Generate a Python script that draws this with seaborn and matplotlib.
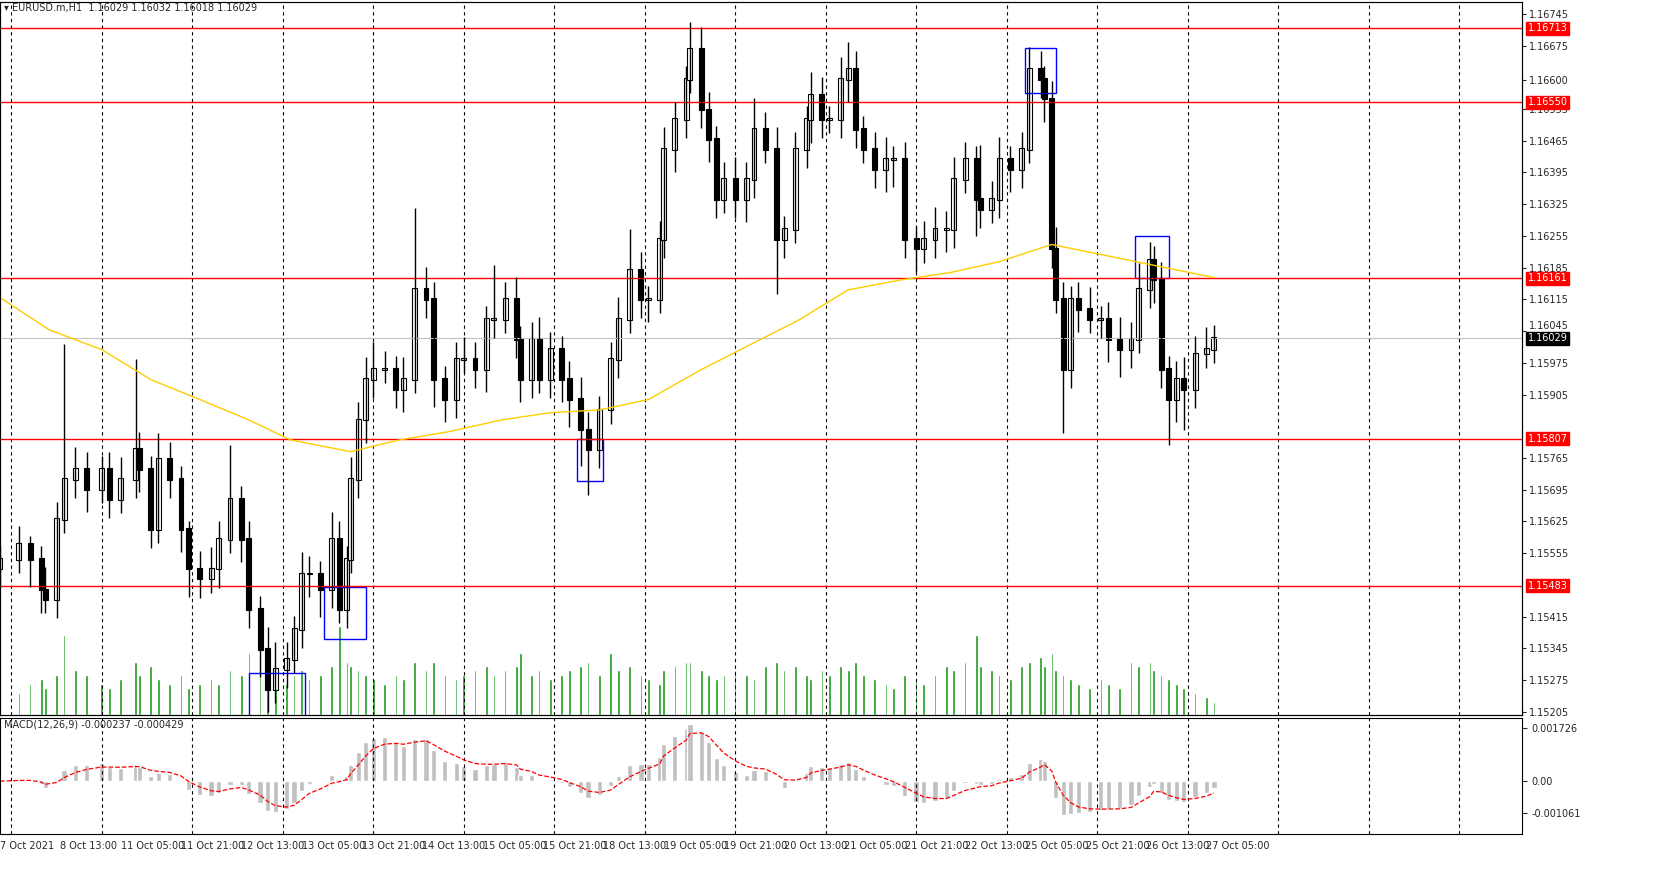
import numpy as np
import pandas as pd
import matplotlib
matplotlib.use("Agg")
import matplotlib.pyplot as plt
import seaborn as sns

sns.set_style("white")
plt.rcParams['font.family'] = ['DejaVu Sans']

# bar times (hours from 7 Oct 2021 start) and close prices
bar_hour = [0, 5, 8, 11, 12, 15, 17, 20, 23, 27, 29, 32, 36, 37, 40, 42, 45, 48, 50, 53,
            56, 58, 61, 64, 66, 69, 71, 73, 76, 78, 80, 82, 85, 88, 90, 92, 93, 95, 97, 99,
            102, 105, 107, 110, 113, 115, 118, 121, 123, 126, 129, 131, 134, 137, 138, 141, 143, 146, 149, 151,
            154, 156, 159, 162, 164, 167, 170, 172, 175, 176, 179, 182, 183, 186, 188, 190, 192, 195, 198, 200,
            203, 206, 208, 211, 214, 215, 218, 220, 223, 225, 227, 229, 232, 235, 237, 240, 243, 245, 248, 251,
            253, 256, 259, 260, 263, 265, 268, 271, 273, 276, 277, 279, 280, 282, 284, 286, 289, 292, 294, 297,
            300, 302, 305, 306, 308, 310, 312, 314, 317, 320, 322]
close = [1.15541, 1.15574, 1.15541, 1.15474, 1.15452, 1.15629, 1.15717, 1.15739, 1.15695, 1.15739,
         1.15673, 1.15717, 1.15783, 1.15739, 1.15607, 1.15761, 1.15717, 1.15607, 1.15519, 1.15497,
         1.15519, 1.15585, 1.15673, 1.15585, 1.15430, 1.15342, 1.15254, 1.15298, 1.15320, 1.15386,
         1.15508, 1.15508, 1.15474, 1.15585, 1.15430, 1.15541, 1.15717, 1.15849, 1.15938, 1.15960,
         1.15960, 1.15916, 1.15938, 1.16136, 1.16114, 1.15938, 1.15894, 1.15982, 1.15982, 1.15960,
         1.16070, 1.16070, 1.16114, 1.16026, 1.15938, 1.16026, 1.15938, 1.16004, 1.15938, 1.15894,
         1.15827, 1.15783, 1.15871, 1.15982, 1.16070, 1.16180, 1.16114, 1.16114, 1.16247, 1.16445,
         1.16511, 1.16600, 1.16666, 1.16533, 1.16467, 1.16335, 1.16379, 1.16335, 1.16379, 1.16489,
         1.16445, 1.16247, 1.16269, 1.16445, 1.16511, 1.16566, 1.16511, 1.16511, 1.16600, 1.16622,
         1.16489, 1.16445, 1.16401, 1.16423, 1.16423, 1.16247, 1.16225, 1.16247, 1.16269, 1.16269,
         1.16379, 1.16423, 1.16335, 1.16313, 1.16335, 1.16423, 1.16401, 1.16445, 1.16622, 1.16600,
         1.16556, 1.16225, 1.16114, 1.15960, 1.16114, 1.16092, 1.16070, 1.16070, 1.16026, 1.16004,
         1.16026, 1.16136, 1.16202, 1.16158, 1.15960, 1.15894, 1.15938, 1.15916, 1.15994, 1.16004,
         1.16029]
# wick lengths in pips above body top / below body bottom
wick_up = [3, 4, 2, 3, 5, 4, 30, 5, 4, 3, 4, 5, 20, 4, 3, 6, 4, 3, 2, 4,
           5, 4, 12, 3, 4, 3, 5, 6, 4, 3, 5, 4, 3, 6, 4, 3, 5, 4, 5, 6,
           4, 3, 5, 18, 5, 4, 3, 4, 5, 4, 3, 12, 4, 5, 3, 4, 5, 4, 3, 4,
           5, 4, 3, 4, 5, 9, 4, 3, 4, 5, 4, 3, 6, 5, 4, 3, 4, 5, 4, 7,
           4, 5, 3, 4, 3, 5, 4, 3, 5, 6, 4, 3, 4, 5, 3, 4, 3, 4, 5, 4,
           5, 4, 3, 12, 4, 5, 3, 4, 5, 4, 3, 4, 5, 4, 3, 4, 5, 3, 4, 5,
           4, 6, 4, 3, 4, 3, 4, 5, 4, 5, 3]
wick_dn = [4, 3, 6, 5, 3, 4, 3, 4, 5, 3, 4, 3, 4, 5, 4, 3, 4, 5, 6, 4,
           3, 4, 3, 5, 4, 6, 5, 3, 4, 3, 4, 5, 6, 4, 3, 4, 3, 4, 5, 4,
           3, 4, 5, 3, 4, 6, 5, 4, 3, 4, 5, 4, 3, 4, 5, 4, 3, 4, 5, 6,
           8, 10, 4, 3, 4, 3, 4, 5, 3, 4, 5, 4, 3, 4, 5, 4, 3, 4, 5, 4,
           3, 12, 4, 3, 4, 5, 4, 3, 4, 5, 4, 3, 4, 5, 6, 4, 5, 3, 4, 5,
           4, 3, 8, 4, 3, 4, 5, 4, 3, 4, 5, 4, 3, 14, 4, 5, 3, 4, 5, 6,
           4, 3, 4, 5, 4, 10, 5, 9, 4, 3, 3]
volume = [30, 25, 35, 40, 30, 45, 90, 50, 45, 35, 30, 40, 60, 45, 55, 40, 35, 45, 30, 35,
          40, 35, 50, 45, 70, 45, 50, 40, 35, 45, 50, 40, 45, 55, 100, 60, 55, 50, 45, 40,
          35, 45, 40, 60, 50, 60, 45, 40, 45, 50, 55, 45, 50, 55, 70, 45, 50, 40, 45, 50,
          55, 60, 45, 70, 50, 55, 45, 40, 35, 50, 55, 60, 60, 50, 45, 40, 45, 50, 45, 40,
          55, 60, 50, 55, 45, 40, 50, 45, 55, 50, 60, 45, 40, 35, 30, 45, 40, 35, 45, 55,
          50, 60, 90, 55, 50, 45, 40, 55, 60, 65, 55, 70, 50, 45, 40, 35, 30, 40, 35, 30,
          60, 55, 60, 50, 45, 40, 35, 30, 25, 20, 15]

# 100-period moving average, read at key points (hour, price)
ma_hour = [0, 13, 27, 40, 53, 66, 77, 93, 106, 119, 133, 146, 159, 172, 186, 199, 212, 225, 239, 252, 265, 279, 292, 305, 322]
ma_price = [1.16119, 1.16048, 1.16004, 1.15938, 1.15894, 1.15849, 1.15805, 1.15779, 1.15805, 1.15823,
            1.15849, 1.15865, 1.15871, 1.15894, 1.15960, 1.16015, 1.16070, 1.16136, 1.16158, 1.16174,
            1.16198, 1.16236, 1.16214, 1.16192, 1.16163]

levels = [1.16713, 1.16550, 1.16161, 1.15807, 1.15483]
boxes = [(66, 81, 1.15290, 1.15190), (86, 97, 1.15480, 1.15365), (153, 160, 1.15807, 1.15715),
         (272, 280, 1.16669, 1.16570), (301, 310, 1.16254, 1.16161)]
price_ticks = [1.16745, 1.16675, 1.16600, 1.16535, 1.16465, 1.16395, 1.16325, 1.16255, 1.16185,
               1.16115, 1.16045, 1.15975, 1.15905, 1.15765, 1.15695, 1.15625, 1.15555,
               1.15415, 1.15345, 1.15275, 1.15205]
time_labels = ["7 Oct 2021", "8 Oct 13:00", "11 Oct 05:00", "11 Oct 21:00", "12 Oct 13:00",
               "13 Oct 05:00", "13 Oct 21:00", "14 Oct 13:00", "15 Oct 05:00", "15 Oct 21:00",
               "18 Oct 13:00", "19 Oct 05:00", "19 Oct 21:00", "20 Oct 13:00", "21 Oct 05:00",
               "21 Oct 21:00", "22 Oct 13:00", "25 Oct 05:00", "25 Oct 21:00", "26 Oct 13:00",
               "27 Oct 05:00"]

df = pd.DataFrame({"hour": bar_hour, "close": close, "up": wick_up, "dn": wick_dn, "vol": volume})
df["open"] = df["close"].shift(1).fillna(df["close"].iloc[0] - 0.0002)
df["top"] = df[["open", "close"]].max(axis=1)
df["bot"] = df[["open", "close"]].min(axis=1)
df["high"] = df["top"] + df["up"] * 1e-4
df["low"] = df["bot"] - df["dn"] * 1e-4

# MACD on the read closes
ema_fast = df["close"].ewm(span=5, adjust=False).mean()
ema_slow = df["close"].ewm(span=11, adjust=False).mean()
df["macd"] = ema_fast - ema_slow
df["signal"] = df["macd"].ewm(span=4, adjust=False).mean()

fig = plt.figure(figsize=(16.68, 8.88), dpi=100)
W = 1668
H = 888
ax = fig.add_axes([0, 1 - 715 / H, 1522 / W, 713 / H])
axm = fig.add_axes([0, 1 - 834 / H, 1522 / W, 116 / H])
xmax = 1522 / 3.77

# volume (bottom of price panel)
axv = ax.twinx()
axv.bar(df["hour"], df["vol"], width=0.7, color="#1a9b1a")
axv.set_ylim(0, 800)
axv.set_yticks([])
axv.set_zorder(1)
ax.set_zorder(2)
ax.patch.set_visible(False)

# grid
for g in np.arange(3, xmax, 24):
    ax.axvline(g, color="black", ls=(0, (3, 3)), lw=0.8)
    axm.axvline(g, color="black", ls=(0, (3, 3)), lw=0.8)

for lv in levels:
    ax.axhline(lv, color="red", lw=1)
ax.axhline(close[-1], color="#c0c0c0", lw=0.8)

# candles
ax.vlines(df["hour"], df["low"], df["high"], color="black", lw=1)
bull = df["close"] >= df["open"]
ax.bar(df["hour"][bull], (df["top"] - df["bot"])[bull] + 0.00003, bottom=df["bot"][bull],
       width=1.3, color="white", edgecolor="black", lw=0.8)
ax.bar(df["hour"][~bull], (df["top"] - df["bot"])[~bull] + 0.00003, bottom=df["bot"][~bull],
       width=1.3, color="black", edgecolor="black", lw=0.8)

sns.lineplot(x=ma_hour, y=ma_price, ax=ax, color="#ffcc00", lw=1)

for x0, x1, y0, y1 in boxes:
    ax.add_patch(plt.Rectangle((x0, y1), x1 - x0, y0 - y1, fill=False, edgecolor="blue", lw=1))

ax.set_xlim(0, xmax)
ax.set_ylim(1.15198, 1.16771)
ax.yaxis.tick_right()
ax.set_yticks(price_ticks)
ax.set_yticklabels([f"{p:.5f}" for p in price_ticks], fontsize=7)
ax.tick_params(axis="y", length=3, pad=2)
# nudge the 1.16045 tick label up, clear of the current-price box
for lab, p in zip(ax.get_yticklabels(), price_ticks):
    if p == 1.16045:
        lab.set_va("bottom")
ax.set_xticks([])
for lv in levels:
    ax.text(xmax + 1.5, lv, f"{lv:.5f}", fontsize=7, color="white", va="center",
            bbox=dict(boxstyle="square,pad=0.15", fc="red", ec="red"))
ax.text(xmax + 1.5, close[-1], f"{close[-1]:.5f}", fontsize=7, color="white", va="center",
        bbox=dict(boxstyle="square,pad=0.15", fc="black", ec="black"))
ax.text(1, 1.16758, "\u25be EURUSD.m,H1  1.16029 1.16032 1.16018 1.16029", fontsize=7, va="center")

# MACD panel
axm.bar(df["hour"], df["macd"], width=1.4, color="#c0c0c0")
sns.lineplot(x=df["hour"], y=df["signal"], ax=axm, color="red", lw=0.9, ls="--")
axm.set_xlim(0, xmax)
lim = np.abs(df["macd"]).max()
axm.set_ylim(-0.92 * lim, 1.1 * lim)
axm.yaxis.tick_right()
axm.set_yticks([0.92 * lim, 0, -0.55 * lim])
axm.set_yticklabels(["0.001726", "0.00", "-0.001061"], fontsize=7)
axm.set_ylabel("")
axm.set_xlabel("")
axm.set_xticks(np.arange(0, 321, 16))
axm.set_xticklabels(time_labels, fontsize=7, ha="left")
axm.tick_params(axis="x", length=3, pad=2)
axm.text(1, 0.98 * lim, "MACD(12,26,9) -0.000237 -0.000429", fontsize=7, va="center")

for a in (ax, axm):
    for s in a.spines.values():
        s.set_color("black")
        s.set_linewidth(0.8)

fig.savefig("out.png", dpi=100)
